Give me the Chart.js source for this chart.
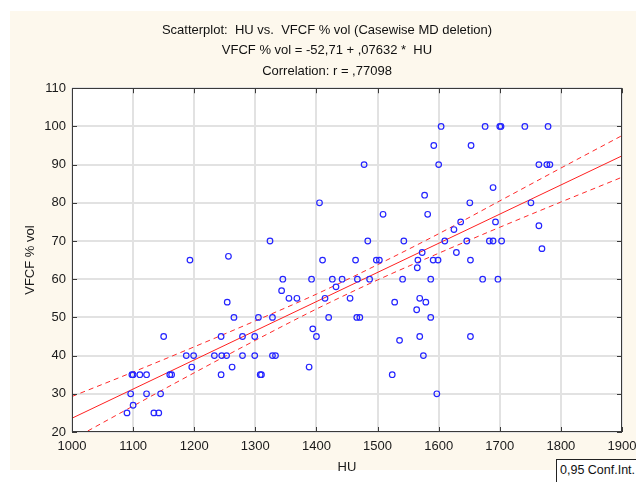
<!DOCTYPE html>
<html>
<head>
<meta charset="utf-8">
<title>Scatterplot HU vs VFCF</title>
<script src="https://cdn.jsdelivr.net/npm/chart.js@4.4.0/dist/chart.umd.min.js"></script>
<style>
  html, body { margin: 0; padding: 0; background: #fff; }
  #wrap { position: relative; width: 636px; height: 482px; }
  #legendBox {
    position: absolute; left: 556px; top: 459px; width: 80px; height: 23px;
    box-sizing: border-box; border: 1px solid #222; border-right: none; border-bottom: none;
    background: #fff; font: 12.5px Arial, "Liberation Sans", sans-serif; color: #111;
    padding: 3px 0 0 3px; white-space: nowrap; overflow: hidden;
  }
</style>
</head>
<body>
<div id="wrap">
  <canvas id="scatterCanvas" width="636" height="482"></canvas>
  <div id="legendBox">0,95 Conf.Int.</div>
</div>
<script>
const huValues = [
  1604, 1676, 1702, 1700, 1741, 1779, 1592, 1653, 1478, 1600, 1764, 1777, 1782,
  1689, 1577, 1651, 1751, 1509, 1582, 1636, 1693,
  1764, 1625, 1769, 1543, 1610, 1646, 1683, 1689, 1703, 1573, 1629, 1566, 1591,
  1599, 1652, 1565, 1541, 1587, 1672, 1697, 1528, 1569, 1579, 1564, 1587, 1569,
  1536, 1652, 1575, 1524, 1597,
  1324, 1484, 1410, 1464, 1498, 1503, 1345, 1392, 1426, 1442, 1467, 1487, 1432,
  1343, 1355, 1368, 1414, 1455, 1305, 1328, 1420, 1466, 1471, 1279, 1299, 1394,
  1400, 1279, 1299, 1328, 1333, 1388, 1310, 1308,
  1405, 1193, 1256,
  1254, 1265, 1150, 1244, 1187, 1199, 1233, 1245, 1253, 1196, 1262, 1244, 1098,
  1100, 1111, 1122, 1160, 1163, 1096, 1122, 1145, 1100, 1090, 1134, 1142
];
const vfcfValues = [
  100, 100, 100, 100, 100, 100, 95, 95, 90, 90, 90, 90, 90,
  84, 82, 80, 80, 77, 77, 75, 75,
  74, 73, 68, 70, 70, 70, 70, 70, 70, 67, 67, 65, 65,
  65, 65, 63, 60, 60, 60, 60, 54, 55, 54, 52, 50, 45,
  44, 45, 40, 35, 30,
  70, 70, 65, 65, 65, 65, 60, 60, 60, 60, 60, 60, 58,
  57, 55, 55, 55, 55, 50, 50, 50, 50, 50, 45, 45, 47,
  45, 40, 40, 40, 40, 37, 35, 35,
  80, 65, 66,
  54, 50, 45, 45, 40, 40, 40, 40, 40, 37, 37, 35, 35,
  35, 35, 35, 35, 35, 30, 30, 30, 27, 25, 25, 25
];

// regression line VFCF = -52,71 + ,07632 * HU, ends of the plotted line
const fitHU = [1000, 1900];
const fitVFCF = [23.61, 92.30];

// 0,95 confidence band, read at every 100 HU
const bandHU = [1000, 1100, 1200, 1300, 1400, 1500, 1600, 1700, 1800, 1900];
const upperBand = [29.3, 35.7, 42.3, 49.1, 56.1, 63.8, 71.9, 80.5, 89.1, 97.6];
const lowerBand = [18.0, 26.8, 35.5, 44.0, 52.2, 59.8, 66.8, 73.6, 80.2, 86.7];

const titleLines = [
  'Scatterplot:  HU vs.  VFCF % vol (Casewise MD deletion)',
  'VFCF % vol = -52,71 + ,07632 *  HU',
  'Correlation: r = ,77098'
];

const FONT = 'Arial, "Liberation Sans", sans-serif';
Chart.defaults.font.family = FONT;
Chart.defaults.font.size = 13;
Chart.defaults.color = '#1a1a1a';

const toPoints = (xs, ys) => xs.map((x, i) => ({ x: x, y: ys[i] }));

// cream panel + white plot area
const panelBackground = {
  id: 'panelBackground',
  beforeDraw(chart) {
    const ctx = chart.ctx;
    const a = chart.chartArea;
    ctx.save();
    ctx.fillStyle = '#ffffff';
    ctx.fillRect(0, 0, chart.width, chart.height);
    ctx.fillStyle = '#fdf8ed';
    ctx.fillRect(10, 11, chart.width - 10, 459);
    ctx.fillStyle = '#ffffff';
    ctx.fillRect(a.left, a.top, a.right - a.left, a.bottom - a.top);
    ctx.restore();
  }
};

// frame round the plot with short inner tick marks on every side
const frameAndTicks = {
  id: 'frameAndTicks',
  afterDraw(chart) {
    const { ctx, chartArea: a, scales } = chart;
    const len = 5;
    ctx.save();
    ctx.strokeStyle = '#3a3a3a';
    ctx.lineWidth = 1;
    ctx.beginPath();
    scales.x.ticks.forEach(t => {
      const px = Math.round(scales.x.getPixelForValue(t.value)) + 0.5;
      ctx.moveTo(px, a.bottom); ctx.lineTo(px, a.bottom - len);
      ctx.moveTo(px, a.top); ctx.lineTo(px, a.top + len);
    });
    scales.y.ticks.forEach(t => {
      const py = Math.round(scales.y.getPixelForValue(t.value)) + 0.5;
      ctx.moveTo(a.left, py); ctx.lineTo(a.left + len, py);
      ctx.moveTo(a.right, py); ctx.lineTo(a.right - len, py);
    });
    ctx.stroke();
    ctx.strokeRect(Math.round(a.left) + 0.5, Math.round(a.top) + 0.5,
      Math.round(a.right - a.left) - 1, Math.round(a.bottom - a.top) - 1);
    ctx.restore();
  }
};

const bandStyle = {
  type: 'line',
  borderColor: '#ff2a2a',
  borderWidth: 1,
  borderDash: [5, 4],
  pointRadius: 0,
  fill: false,
  cubicInterpolationMode: 'monotone',
  order: 2
};

new Chart(document.getElementById('scatterCanvas').getContext('2d'), {
  type: 'scatter',
  data: {
    datasets: [
      {
        label: 'cases',
        data: toPoints(huValues, vfcfValues),
        pointStyle: 'circle',
        pointRadius: 2.8,
        borderColor: '#2424ff',
        backgroundColor: 'rgba(0,0,0,0)',
        borderWidth: 1.2,
        order: 0
      },
      {
        label: 'fit',
        type: 'line',
        data: toPoints(fitHU, fitVFCF),
        borderColor: '#ff2020',
        borderWidth: 1,
        pointRadius: 0,
        fill: false,
        order: 1
      },
      Object.assign({ label: 'upper', data: toPoints(bandHU, upperBand) }, bandStyle),
      Object.assign({ label: 'lower', data: toPoints(bandHU, lowerBand) }, bandStyle)
    ]
  },
  options: {
    responsive: false,
    animation: false,
    layout: { padding: { left: 18, right: 0, top: 20, bottom: 0 } },
    plugins: {
      legend: { display: false },
      tooltip: { enabled: false },
      title: {
        display: true,
        text: titleLines,
        color: '#111',
        font: { size: 13, weight: 'normal', lineHeight: 1.57 },
        padding: { top: 0, bottom: 7 }
      }
    },
    scales: {
      x: {
        type: 'linear',
        min: 1000,
        max: 1900,
        ticks: {
          stepSize: 100, padding: 7, maxRotation: 0, color: '#1a1a1a',
          callback: v => String(v)
        },
        grid: { color: '#e2e2e2', lineWidth: 2, drawTicks: false },
        border: { display: false },
        title: { display: true, text: 'HU', color: '#1a1a1a', padding: { top: 0, bottom: 7 } },
        afterFit(scale) {
          scale.height = 50;
          scale.paddingLeft = 0;
          scale.paddingRight = 14;
        }
      },
      y: {
        min: 20,
        max: 110,
        ticks: { stepSize: 10, padding: 6, color: '#1a1a1a', callback: v => String(v) },
        grid: { color: '#e2e2e2', lineWidth: 2, drawTicks: false },
        border: { display: false },
        title: { display: true, text: 'VFCF % vol', color: '#1a1a1a', padding: { top: 5, bottom: 0 } },
        afterFit(scale) {
          scale.width = 54;
          scale.paddingTop = 0;
          scale.paddingBottom = 0;
        }
      }
    }
  },
  plugins: [panelBackground, frameAndTicks]
});
</script>
</body>
</html>
